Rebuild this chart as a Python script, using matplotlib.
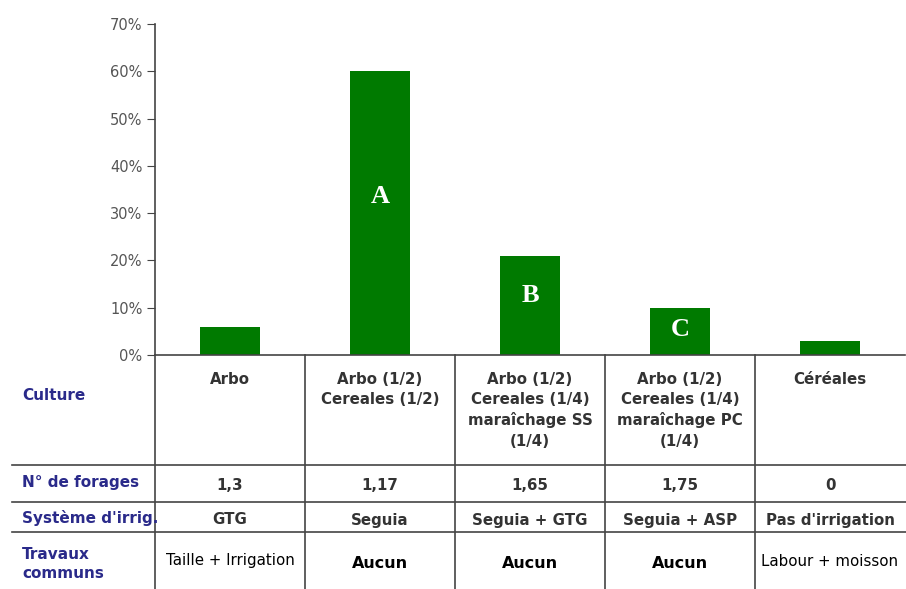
import numpy as np
import matplotlib
matplotlib.use('Agg')
import matplotlib.pyplot as plt
from matplotlib.transforms import blended_transform_factory

plt.rcParams['font.family'] = ['DejaVu Sans']

# Data
shares = [0.06, 0.60, 0.21, 0.10, 0.03]
bar_letters = ['', 'A', 'B', 'C', '']
letter_y = [0, 0.335, 0.125, 0.053, 0]

row_labels = ['Culture', 'N° de forages', "Système d'irrig.", 'Travaux\ncommuns']
culture = ['Arbo', 'Arbo (1/2)\nCereales (1/2)',
           'Arbo (1/2)\nCereales (1/4)\nmaraîchage SS\n(1/4)',
           'Arbo (1/2)\nCereales (1/4)\nmaraîchage PC\n(1/4)', 'Céréales']
forages = ['1,3', '1,17', '1,65', '1,75', '0']
irrigation = ['GTG', 'Seguia', 'Seguia + GTG', 'Seguia + ASP', "Pas d'irrigation"]
travaux = ['Taille + Irrigation', 'Aucun', 'Aucun', 'Aucun', 'Labour + moisson']

W, H = 906, 589
fig = plt.figure(figsize=(W / 100, H / 100), dpi=100)
ax = fig.add_axes([155 / W, 1 - 355 / H, 750 / W, 331 / H])

x = np.arange(len(shares))
ax.bar(x, shares, width=0.4, color='#007a00', zorder=2)
for xi, ly, lt in zip(x, letter_y, bar_letters):
    if lt:
        ax.text(xi, ly, lt, ha='center', va='center', color='white',
                fontsize=19, fontweight='bold', family=['Liberation Serif', 'DejaVu Serif'])

ax.set_xlim(-0.5, len(shares) - 0.5)
ax.set_ylim(0, 0.7)
yt = np.arange(0, 0.71, 0.1)
ax.set_yticks(yt)
ax.set_yticklabels(['%d%%' % round(t * 100) for t in yt])
ax.tick_params(axis='y', direction='out', length=6, color='#444444',
               labelcolor='#555555', labelsize=10.5, pad=3)
ax.set_xticks([])
for s in ['top', 'right']:
    ax.spines[s].set_visible(False)
for s in ['left', 'bottom']:
    ax.spines[s].set_color('#444444')
    ax.spines[s].set_linewidth(1.2)

# Table below the chart
def fy(py):
    return 1 - py / H

tr = blended_transform_factory(ax.transData, fig.transFigure)
lc = '#444444'
for b in np.arange(-0.5, len(shares) - 0.5):
    fig.add_artist(plt.Line2D([b, b], [fy(355), fy(589)], transform=tr,
                              color=lc, lw=1.2))
for py in [465, 502, 532]:
    fig.add_artist(plt.Line2D([12 / W, 1], [fy(py), fy(py)],
                              transform=fig.transFigure, color=lc, lw=1.2))

navy = '#2a2a8a'
label_y = [395, 482, 518, 564]
for lbl, py in zip(row_labels, label_y):
    fig.text(22 / W, fy(py), lbl, ha='left', va='center', color=navy,
             fontsize=11, fontweight='bold', linespacing=1.35)

txt = '#333333'
for xi in x:
    fig.text(xi, fy(372), culture[xi], transform=tr, ha='center', va='top',
             color=txt, fontsize=10.8, fontweight='bold', linespacing=1.42)
    fig.text(xi, fy(486), forages[xi], transform=tr, ha='center', va='center',
             color=txt, fontsize=10.8, fontweight='bold')
    fig.text(xi, fy(520), irrigation[xi], transform=tr, ha='center', va='center',
             color=txt, fontsize=10.8, fontweight='bold')
    if travaux[xi] == 'Aucun':
        fig.text(xi, fy(563), travaux[xi], transform=tr, ha='center', va='center',
                 color='black', fontsize=11.5, fontweight='bold')
    else:
        fig.text(xi, fy(561), travaux[xi], transform=tr, ha='center', va='center',
                 color='black', fontsize=10.8)

fig.savefig('out.png', dpi=100, facecolor='white')
